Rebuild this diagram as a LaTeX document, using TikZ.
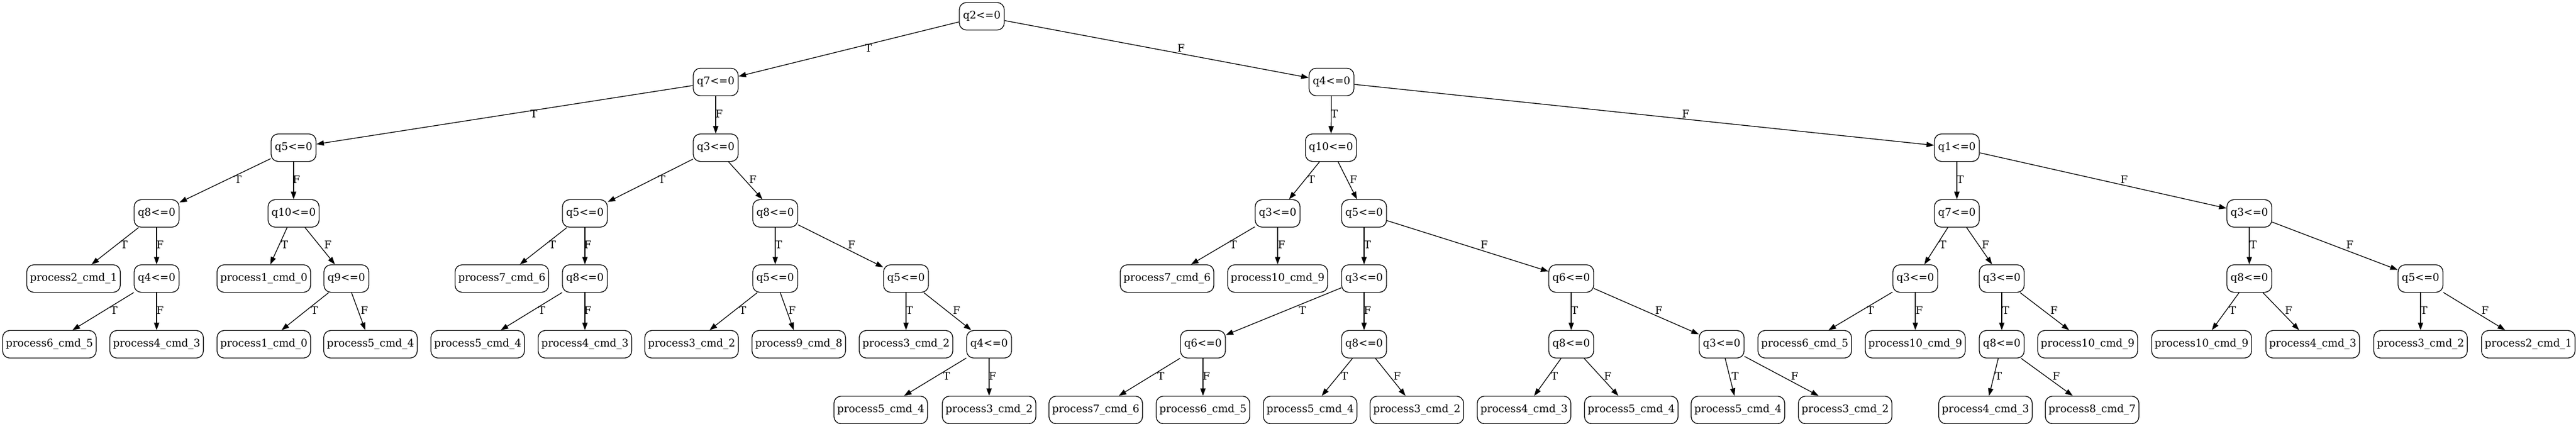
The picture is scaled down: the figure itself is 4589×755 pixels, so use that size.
\documentclass[tikz,border=0pt]{standalone}
\usepackage{fontspec}
\setmainfont{DejaVu Serif}
\usetikzlibrary{arrows.meta}
\newcommand\edg[4]{\path[conn] (#1) -- (#2) node[lab] at (#3) {#4};}
\begin{document}
\begin{tikzpicture}[x=0.75pt,y=-0.75pt,
  box/.style={draw, rounded corners=9.5pt, line width=1pt, minimum height=36.75pt, inner sep=0pt, font=\fontsize{14}{16}\selectfont},
  qn/.style={box, minimum width=60pt},
  qw/.style={box, minimum width=68.25pt},
  pn/.style={box, minimum width=125pt},
  pw/.style={box, minimum width=133.5pt},
  conn/.style={draw, line width=1pt, -{Triangle[length=10pt,width=7pt]}},
  lab/.style={font=\fontsize{14}{16}\selectfont, inner sep=0pt}]
\useasboundingbox (0,0) rectangle (4589,755);
% level 0
\node[qn] (n0) at (1749,29) {q2<=0};
% level 1
\node[qn] (a) at (1275,146) {q7<=0};
\node[qn] (b) at (2372,146) {q4<=0};
% level 2
\node[qn] (a1) at (523,263) {q5<=0};
\node[qn] (a2) at (1275,263) {q3<=0};
\node[qw] (b1) at (2371,263) {q10<=0};
\node[qn] (b2) at (3486,263) {q1<=0};
% level 3
\node[qn] (a11) at (279,380) {q8<=0};
\node[qw] (a12) at (523,380) {q10<=0};
\node[qn] (a21) at (1042,380) {q5<=0};
\node[qn] (a22) at (1381,380) {q8<=0};
\node[qn] (b11) at (2276,380) {q3<=0};
\node[qn] (b12) at (2430,380) {q5<=0};
\node[qn] (b21) at (3486,380) {q7<=0};
\node[qn] (b22) at (4007,380) {q3<=0};
% level 4
\node[pn] (a111) at (131,496) {process2\_cmd\_1};
\node[qn] (a112) at (279,496) {q4<=0};
\node[pn] (a121) at (470,496) {process1\_cmd\_0};
\node[qn] (a122) at (617,496) {q9<=0};
\node[pn] (a211) at (894,496) {process7\_cmd\_6};
\node[qn] (a212) at (1042,496) {q8<=0};
\node[qn] (a221) at (1381,496) {q5<=0};
\node[qn] (a222) at (1614,496) {q5<=0};
\node[pn] (b111) at (2079,496) {process7\_cmd\_6};
\node[pw] (b112) at (2276,496) {process10\_cmd\_9};
\node[qn] (b121) at (2430,496) {q3<=0};
\node[qn] (b122) at (2799,496) {q6<=0};
\node[qn] (b211) at (3412,496) {q3<=0};
\node[qn] (b212) at (3566,496) {q3<=0};
\node[qn] (b221) at (4007,496) {q8<=0};
\node[qn] (b222) at (4312,496) {q5<=0};
% level 5
\node[pn] (a1121) at (88,613) {process6\_cmd\_5};
\node[pn] (a1122) at (279,613) {process4\_cmd\_3};
\node[pn] (a1221) at (470,613) {process1\_cmd\_0};
\node[pn] (a1222) at (660,613) {process5\_cmd\_4};
\node[pn] (a2121) at (851,613) {process5\_cmd\_4};
\node[pn] (a2122) at (1042,613) {process4\_cmd\_3};
\node[pn] (a2211) at (1232,613) {process3\_cmd\_2};
\node[pn] (a2212) at (1423,613) {process9\_cmd\_8};
\node[pn] (a2221) at (1614,613) {process3\_cmd\_2};
\node[qn] (a2222) at (1762,613) {q4<=0};
\node[qn] (b1211) at (2143,613) {q6<=0};
\node[qn] (b1212) at (2430,613) {q8<=0};
\node[qn] (b1221) at (2799,613) {q8<=0};
\node[qn] (b1222) at (3067,613) {q3<=0};
\node[pn] (b2111) at (3215,613) {process6\_cmd\_5};
\node[pw] (b2112) at (3412,613) {process10\_cmd\_9};
\node[qn] (b2121) at (3566,613) {q8<=0};
\node[pw] (b2122) at (3719,613) {process10\_cmd\_9};
\node[pw] (b2211) at (3922,613) {process10\_cmd\_9};
\node[pn] (b2212) at (4120,613) {process4\_cmd\_3};
\node[pn] (b2221) at (4312,613) {process3\_cmd\_2};
\node[pn] (b2222) at (4504,613) {process2\_cmd\_1};
% level 6
\node[pn] (a22221) at (1569,730) {process5\_cmd\_4};
\node[pn] (a22222) at (1762,730) {process3\_cmd\_2};
\node[pn] (b12111) at (1952,730) {process7\_cmd\_6};
\node[pn] (b12112) at (2143,730) {process6\_cmd\_5};
\node[pn] (b12121) at (2334,730) {process5\_cmd\_4};
\node[pn] (b12122) at (2524,730) {process3\_cmd\_2};
\node[pn] (b12211) at (2715,730) {process4\_cmd\_3};
\node[pn] (b12212) at (2906,730) {process5\_cmd\_4};
\node[pn] (b12221) at (3096,730) {process5\_cmd\_4};
\node[pn] (b12222) at (3287,730) {process3\_cmd\_2};
\node[pn] (b21211) at (3537,730) {process4\_cmd\_3};
\node[pn] (b21212) at (3727,730) {process8\_cmd\_7};
% edges
\edg{n0}{a}{1547,86}{T}
\edg{n0}{b}{2104,86}{F}
\edg{a}{a1}{951,203}{T}
\edg{a}{a2}{1281,203}{F}
\edg{b}{b1}{2377,203}{T}
\edg{b}{b2}{3003,203}{F}
\edg{a1}{a11}{424,320}{T}
\edg{a1}{a12}{528,320}{F}
\edg{a2}{a21}{1179,320}{T}
\edg{a2}{a22}{1341,320}{F}
\edg{b1}{b11}{2336,320}{T}
\edg{b1}{b12}{2411,320}{F}
\edg{b2}{b21}{3492,320}{T}
\edg{b2}{b22}{3784,320}{F}
\edg{a11}{a111}{221,436}{T}
\edg{a11}{a112}{285,436}{F}
\edg{a12}{a121}{507,436}{T}
\edg{a12}{a122}{584,436}{F}
\edg{a21}{a211}{984,436}{T}
\edg{a21}{a212}{1047,436}{F}
\edg{a22}{a221}{1387,436}{T}
\edg{a22}{a222}{1517,436}{F}
\edg{b11}{b111}{2197,436}{T}
\edg{b11}{b112}{2283,436}{F}
\edg{b12}{b121}{2436,436}{T}
\edg{b12}{b122}{2644,436}{F}
\edg{b21}{b211}{3461,436}{T}
\edg{b21}{b212}{3537,436}{F}
\edg{b22}{b221}{4014,436}{T}
\edg{b22}{b222}{4186,436}{F}
\edg{a112}{a1121}{203,553}{T}
\edg{a112}{a1122}{285,553}{F}
\edg{a122}{a1221}{560,553}{T}
\edg{a122}{a1222}{649,553}{F}
\edg{a212}{a2121}{965,553}{T}
\edg{a212}{a2122}{1047,553}{F}
\edg{a221}{a2211}{1323,553}{T}
\edg{a221}{a2212}{1411,553}{F}
\edg{a222}{a2221}{1620,553}{T}
\edg{a222}{a2222}{1704,553}{F}
\edg{b121}{b1211}{2320,553}{T}
\edg{b121}{b1212}{2436,553}{F}
\edg{b122}{b1221}{2805,553}{T}
\edg{b122}{b1222}{2955,553}{F}
\edg{b211}{b2111}{3332,553}{T}
\edg{b211}{b2112}{3419,553}{F}
\edg{b212}{b2121}{3573,553}{T}
\edg{b212}{b2122}{3659,553}{F}
\edg{b221}{b2211}{3977,553}{T}
\edg{b221}{b2212}{4077,553}{F}
\edg{b222}{b2221}{4318,553}{T}
\edg{b222}{b2222}{4427,553}{F}
\edg{a2222}{a22221}{1686,670}{T}
\edg{a2222}{a22222}{1768,670}{F}
\edg{b1211}{b12111}{2068,670}{T}
\edg{b1211}{b12112}{2149,670}{F}
\edg{b1212}{b12121}{2395,670}{T}
\edg{b1212}{b12122}{2489,670}{F}
\edg{b1221}{b12211}{2769,670}{T}
\edg{b1221}{b12212}{2864,670}{F}
\edg{b1222}{b12221}{3091,670}{T}
\edg{b1222}{b12222}{3197,670}{F}
\edg{b2121}{b21211}{3560,670}{T}
\edg{b2121}{b21212}{3663,670}{F}
\end{tikzpicture}
\end{document}
